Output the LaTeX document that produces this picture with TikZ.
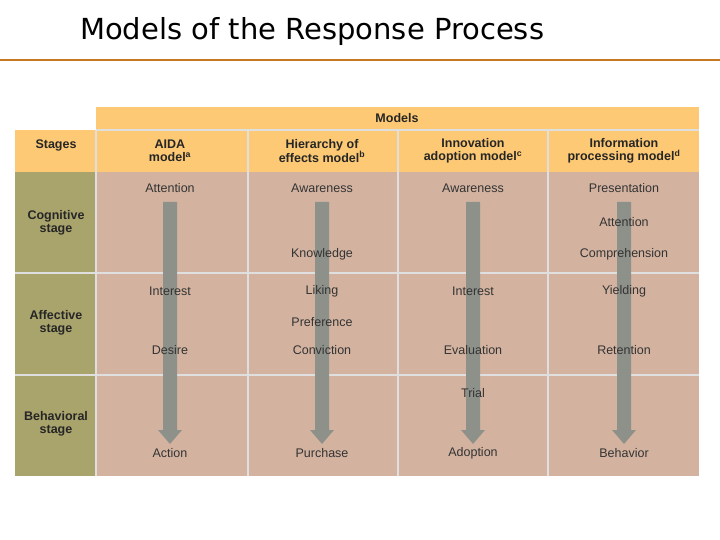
\documentclass[tikz,border=0pt]{standalone}
\usepackage{fontspec}
\setmainfont{Liberation Sans}
\newfontfamily\titlef{DejaVu Sans}
\begin{document}
\begin{tikzpicture}[x=1pt,y=-1pt,
 hdr/.style={font=\bfseries\fontsize{12.5}{13.5}\selectfont,align=center,text=black!85,inner sep=0pt},
 cell/.style={font=\fontsize{12.5}{13.5}\selectfont,text=black!80,inner sep=1pt},
 gline/.style={draw=white!75!gray,line width=1.2pt}]
\definecolor{hdrc}{HTML}{FDC974}
\definecolor{stc}{HTML}{A9A36C}
\definecolor{bodyc}{HTML}{D3B3A0}
\definecolor{arr}{HTML}{8E918A}
\definecolor{org}{HTML}{C8781E}
\useasboundingbox (0,0) rectangle (720,540);
\node[anchor=west,inner sep=0pt,font=\titlef\fontsize{29}{33}\selectfont] (title) at (80,32) {Models of the Response Process};
\draw[org,line width=2.5pt] (0,60) -- (720,60);
\fill[hdrc] (96,107) rectangle (699,172);
\fill[hdrc] (15,130) rectangle (96,172);
\fill[stc] (15,172) rectangle (96,476);
\fill[bodyc] (96,172) rectangle (699,476);
\foreach \x in {248,398,548} \draw[gline] (\x,130) -- (\x,476);
\draw[gline] (96,130) -- (96,476);
\draw[gline] (96,130) -- (699,130);
\foreach \y in {273,375} \draw[gline] (15,\y) -- (699,\y);
\foreach \x/\n in {170/a1,322/a2,473/a3,624/a4}{
 \fill[arr] (\x-7,202) -- (\x+7,202) -- (\x+7,430) -- (\x+12,430) -- (\x,444) -- (\x-12,430) -- (\x-7,430) -- cycle;
}
\node[hdr] (models) at (397,118) {Models};
\node[hdr] (stages) at (56,145) {Stages};
\node[hdr] (h1) at (170,151) {AIDA\\model\textsuperscript{a}};
\node[hdr] (h2) at (322,151) {Hierarchy of\\effects model\textsuperscript{b}};
\node[hdr] (h3) at (473,151) {Innovation\\adoption model\textsuperscript{c}};
\node[hdr] (h4) at (624,151) {Information\\processing model\textsuperscript{d}};
\node[hdr] (s1) at (56,223) {Cognitive\\stage};
\node[hdr] (s2) at (56,323) {Affective\\stage};
\node[hdr] (s3) at (56,424) {Behavioral\\stage};
\node[cell] (c11) at (170,188) {Attention};
\node[cell] (c12) at (170,291) {Interest};
\node[cell] (c13) at (170,350) {Desire};
\node[cell] (c14) at (170,453) {Action};
\node[cell] (c21) at (322,188) {Awareness};
\node[cell] (c22) at (322,254) {Knowledge};
\node[cell] (c23) at (322,291) {Liking};
\node[cell] (c24) at (322,322) {Preference};
\node[cell] (c25) at (322,350) {Conviction};
\node[cell] (c26) at (322,453) {Purchase};
\node[cell] (c31) at (473,188) {Awareness};
\node[cell] (c32) at (473,291) {Interest};
\node[cell] (c33) at (473,350) {Evaluation};
\node[cell] (c34) at (473,393) {Trial};
\node[cell] (c35) at (473,453) {Adoption};
\node[cell] (c41) at (624,188) {Presentation};
\node[cell] (c42) at (624,222) {Attention};
\node[cell] (c43) at (624,254) {Comprehension};
\node[cell] (c44) at (624,291) {Yielding};
\node[cell] (c45) at (624,350) {Retention};
\node[cell] (c46) at (624,453) {Behavior};
\end{tikzpicture}
\end{document}
